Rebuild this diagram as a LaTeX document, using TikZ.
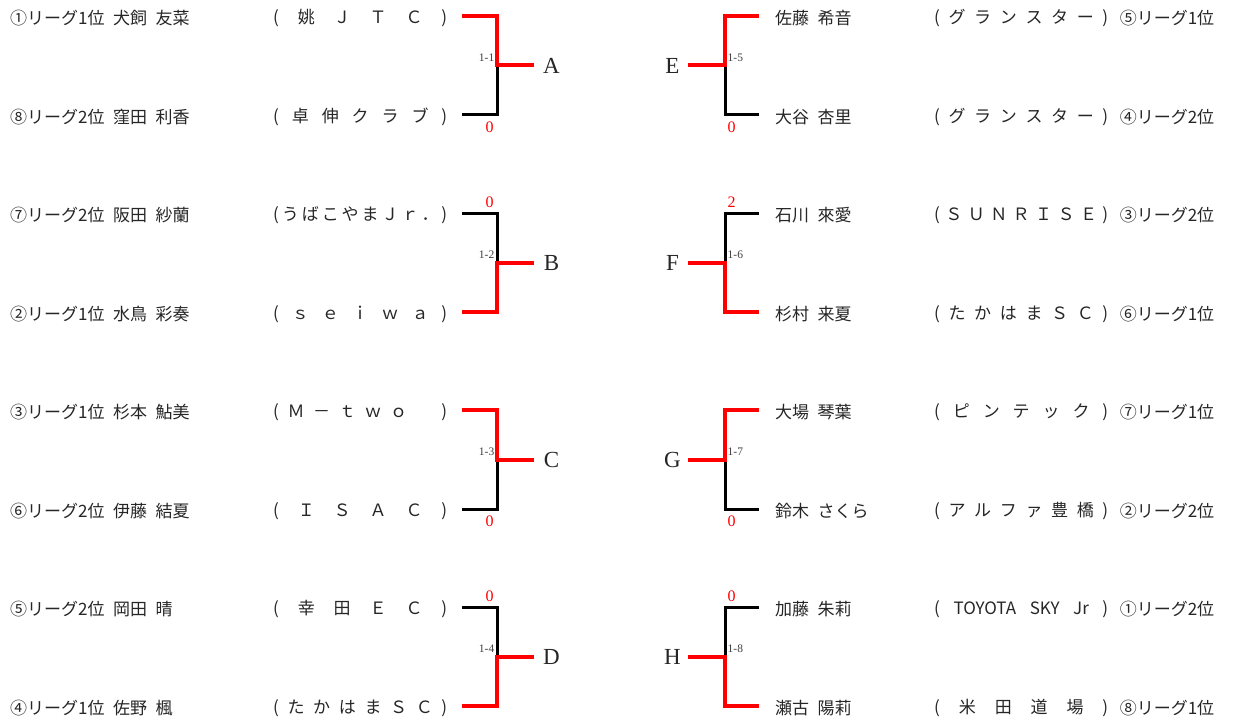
\documentclass[tikz,border=0pt]{standalone}
\usepackage{fontspec}
\setmainfont{Liberation Serif}
\newfontfamily\jpfont{Noto Sans CJK JP}
\usetikzlibrary{positioning}

\newcommand\jptext{\jpfont\fontsize{17}{20}\selectfont\spaceskip=.5em\relax}
% spread the items of a club name evenly over a fixed box
\def\spread#1{\spreadA#1\relax}
\def\spreadA#1{#1\futurelet\next\spreadB}
\def\spreadB{\ifx\next\relax\else\hfill\expandafter\spreadA\fi}
\newcommand\club[1]{\hbox to 174pt{\expandafter\spread\expandafter{#1}}}

\begin{document}
\begin{tikzpicture}[
  x=1pt, y=-1pt,
  win/.style={draw=red, line width=4pt},
  lose/.style={draw=black, line width=3pt},
  player/.style={font=\jptext, text=black!85, inner sep=0pt},
  block/.style={font=\fontsize{23}{25}\selectfont, text=black!85, inner sep=0pt},
  matchno/.style={font=\fontsize{11.5}{12}\selectfont, text=black!75, inner sep=0pt},
  score/.style={font=\fontsize{16}{17}\selectfont, text=red, inner sep=0pt}
]
\useasboundingbox[fill=white] (0,0) rectangle (1236,722);

% --- left side players ---
\foreach \i/\y/\who/\team in {
  1/16/{①リーグ1位 犬飼 友菜}/{(姚ＪＴＣ)},
  2/115/{⑧リーグ2位 窪田 利香}/{(卓伸クラブ)},
  3/213/{⑦リーグ2位 阪田 紗蘭}/{(うばこやまＪｒ．)},
  4/312/{②リーグ1位 水鳥 彩奏}/{(ｓｅｉｗａ)},
  5/410/{③リーグ1位 杉本 鮎美}/{(Ｍ－ｔｗｏ　)},
  6/509/{⑥リーグ2位 伊藤 結夏}/{(ＩＳＡＣ)},
  7/607/{⑤リーグ2位 岡田 晴}/{(幸田ＥＣ)},
  8/706/{④リーグ1位 佐野 楓}/{(たかはまＳＣ)}}
{
  \node[player, anchor=west] (L\i) at (10,\y+2) {\who};
  \node[player, anchor=west] (Lc\i) at (273,\y+2) {\club{\team}};
}

% --- right side players ---
\foreach \i/\y/\who/\team/\rank in {
  1/16/{佐藤 希音}/{(グランスター)}/{⑤リーグ1位},
  2/115/{大谷 杏里}/{(グランスター)}/{④リーグ2位},
  3/213/{石川 來愛}/{(ＳＵＮＲＩＳＥ)}/{③リーグ2位},
  4/312/{杉村 来夏}/{(たかはまＳＣ)}/{⑥リーグ1位},
  5/410/{大場 琴葉}/{(ピンテック)}/{⑦リーグ1位},
  6/509/{鈴木 さくら}/{(アルファ豊橋)}/{②リーグ2位},
  7/607/{加藤 朱莉}/{({TOYOTA}{SKY}{Jr})}/{①リーグ2位},
  8/706/{瀬古 陽莉}/{(米田道場)}/{⑧リーグ1位}}
{
  \node[player, anchor=west] (R\i) at (775,\y+2) {\who};
  \node[player, anchor=west] (Rc\i) at (934,\y+2) {\club{\team}};
  \node[player] (Rr\i) at (1167,\y+2) {\rank};
}

% --- left brackets ---
\foreach \k/\L/\n/\tw/\sc in {0/A/1/t/0, 1/B/2/b/0, 2/C/3/t/0, 3/D/4/b/0} {
  \pgfmathsetmacro\yt{16+197*\k}
  \pgfmathsetmacro\yb{\yt+99}
  \coordinate (\L-t) at (462,\yt);
  \coordinate (\L-b) at (462,\yb);
  \coordinate (\L-m) at (497,\yt+49.5);
  \coordinate (\L-o) at (534,\yt+49.5);
  \node[block] (\L) at (551.5,\yt+50) {\L};
  \if\tw t
    \draw[lose] (\L-b) -| (\L-m);
    \draw[win] (\L-t) -| (\L-m) -- (\L-o);
    \node[score] (\L-s) at (489.5,\yb+12.5) {\sc};
  \else
    \draw[lose] (\L-t) -| (\L-m);
    \draw[win] (\L-b) -| (\L-m) -- (\L-o);
    \node[score] (\L-s) at (489.5,\yt-10.5) {\sc};
  \fi
  \node[matchno, above left=4pt and 2.5pt of \L-m] (\L-n) {1-\n};
}

% --- right brackets ---
\foreach \k/\L/\n/\tw/\sc in {0/E/5/t/0, 1/F/6/b/2, 2/G/7/t/0, 3/H/8/b/0} {
  \pgfmathsetmacro\yt{16+197*\k}
  \pgfmathsetmacro\yb{\yt+99}
  \coordinate (\L-t) at (759,\yt);
  \coordinate (\L-b) at (759,\yb);
  \coordinate (\L-m) at (725,\yt+49.5);
  \coordinate (\L-o) at (688,\yt+49.5);
  \node[block] (\L) at (672.5,\yt+50) {\L};
  \if\tw t
    \draw[lose] (\L-b) -| (\L-m);
    \draw[win] (\L-t) -| (\L-m) -- (\L-o);
    \node[score] (\L-s) at (731.5,\yb+12.5) {\sc};
  \else
    \draw[lose] (\L-t) -| (\L-m);
    \draw[win] (\L-b) -| (\L-m) -- (\L-o);
    \node[score] (\L-s) at (731.5,\yt-10.5) {\sc};
  \fi
  \node[matchno, above right=4pt and 2.5pt of \L-m] (\L-n) {1-\n};
}

\end{tikzpicture}
\end{document}
